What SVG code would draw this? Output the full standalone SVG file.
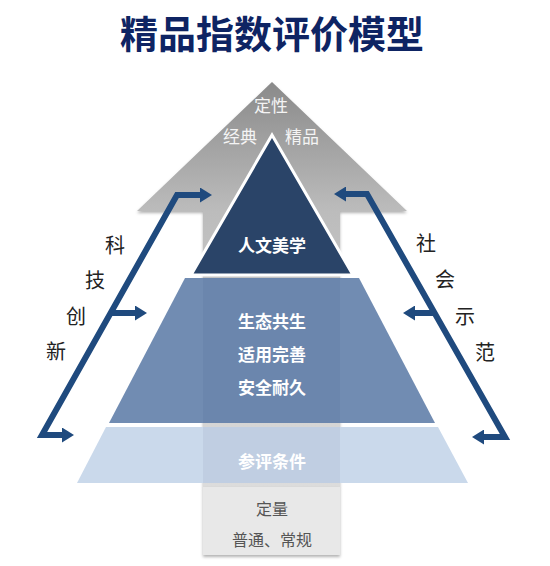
<svg xmlns="http://www.w3.org/2000/svg" width="550" height="566" viewBox="0 0 550 566">
<style>
.cjk{font-family:"Noto Sans CJK SC","Noto Sans",sans-serif;text-anchor:middle}
.title{font-size:38px;font-weight:bold;fill:#0e2463}
.lbl{font-size:17px;font-weight:bold;fill:#ffffff}
.top{font-size:17px;fill:#f4f4f4}
.side{font-size:20px;fill:#222222}
.base{font-size:16px;fill:#555555}
.conn{fill:none;stroke:#1f4a7e;stroke-width:6;stroke-linejoin:miter}
</style>
<defs>
<linearGradient id="gArrow" gradientUnits="userSpaceOnUse" x1="0" y1="82" x2="0" y2="487">
<stop offset="0" stop-color="#8a8a8a"/>
<stop offset="0.32" stop-color="#bcbcbc"/>
<stop offset="1" stop-color="#dcdcdc"/>
</linearGradient>
<filter id="sh" x="-10%" y="-10%" width="120%" height="130%">
<feDropShadow dx="0" dy="2" stdDeviation="1.5" flood-color="#000" flood-opacity="0.3"/>
</filter>
<marker id="ah" markerUnits="userSpaceOnUse" markerWidth="12" markerHeight="15" refX="2" refY="7.5" orient="auto-start-reverse">
<path d="M0,0 L12,7.5 L0,15 z" fill="#1f4a7e"/>
</marker>
</defs>
<rect width="550" height="566" fill="#ffffff"/>
<text class="cjk title" x="272" y="48">精品指数评价模型</text>
<g id="qualitative-arrow">
<polygon points="272,82 407,211 340,211 340,487 203,487 203,211 137,211" fill="url(#gArrow)" filter="url(#sh)"/>
<text class="cjk top" x="271" y="112">定性</text>
<text class="cjk top" x="240" y="143">经典</text>
<text class="cjk top" x="302" y="143">精品</text>
</g>
<g id="quantitative-box">
<rect x="203" y="487" width="137" height="68" fill="#e8e8e8" filter="url(#sh)"/>
<text class="cjk base" x="272" y="515">定量</text>
<text class="cjk base" x="272" y="546">普通、常规</text>
</g>
<g id="layer-humanities">
<polygon points="272,135 191,275 353,275" fill="#2a4468" stroke="#ffffff" stroke-width="3" stroke-linejoin="miter"/>
<text class="cjk lbl" x="272" y="252">人文美学</text>
</g>
<g id="layer-ecology">
<polygon points="185,278 359,278 435,423 109,423" fill="#718cb2"/>
<rect x="203" y="278" width="137" height="145" fill="#6b86ad"/>
<text class="cjk lbl" x="272" y="328">生态共生</text>
<text class="cjk lbl" x="272" y="361">适用完善</text>
<text class="cjk lbl" x="272" y="394">安全耐久</text>
</g>
<g id="layer-conditions">
<polygon points="106,427 438,427 468,483 77,483" fill="#cad9eb"/>
<rect x="203" y="427" width="137" height="56" fill="#c0cee2"/>
<text class="cjk lbl" x="272" y="468">参评条件</text>
</g>
<g id="connectors">
<path class="conn" d="M64,435 L42,435 L177,195 L202,195" marker-start="url(#ah)" marker-end="url(#ah)"/>
<path class="conn" d="M111,313 L137,313" marker-end="url(#ah)"/>
<path class="conn" d="M344,194 L367,194 L505,437 L482,437" marker-start="url(#ah)" marker-end="url(#ah)"/>
<path class="conn" d="M435,313 L413,313" marker-end="url(#ah)"/>
</g>
<g id="label-innovation">
<text class="cjk side" x="115" y="253">科</text>
<text class="cjk side" x="95" y="288">技</text>
<text class="cjk side" x="76" y="324">创</text>
<text class="cjk side" x="56" y="359">新</text>
</g>
<g id="label-demonstration">
<text class="cjk side" x="426" y="251">社</text>
<text class="cjk side" x="445" y="287">会</text>
<text class="cjk side" x="465" y="324">示</text>
<text class="cjk side" x="485" y="360">范</text>
</g>
</svg>
